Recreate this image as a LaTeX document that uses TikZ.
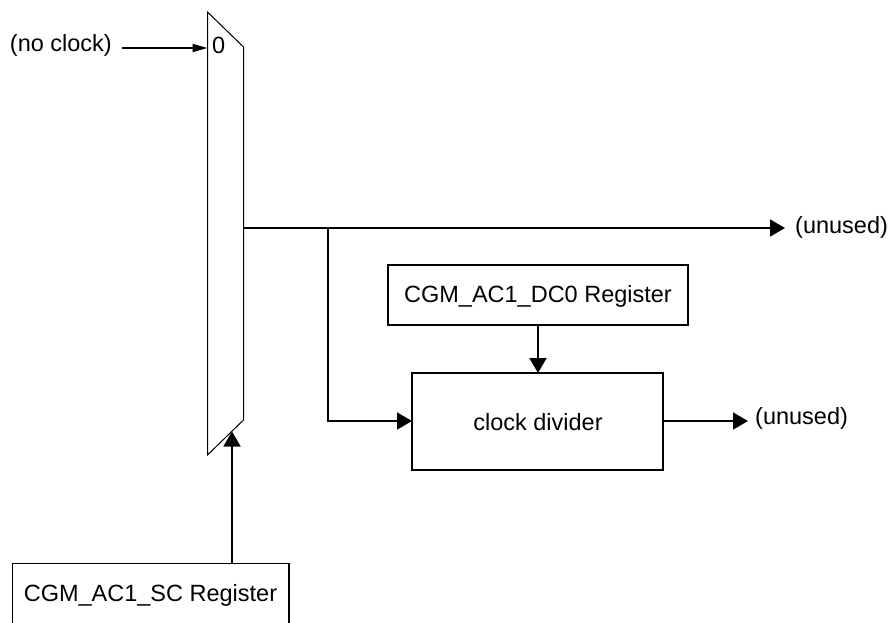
\documentclass[tikz,border=0pt]{standalone}
\usepackage{fontspec}
\setmainfont{Liberation Sans}
\usetikzlibrary{arrows.meta}
\begin{document}
\begin{tikzpicture}[x=1pt,y=-1pt,
  wire/.style={line width=1.8pt,-{Triangle[length=15pt,width=17pt]}},
  lbl/.style={font=\fontsize{23.5}{28}\selectfont,inner sep=0pt}]
\useasboundingbox (0,0) rectangle (895,622);
% mux
\draw[line width=1pt] (207.5,12) -- (243.5,47) -- (243.5,420) -- (207.5,455) -- cycle;
\coordinate (muxin0) at (207.5,48);
\coordinate (muxout) at (243.5,228);
\coordinate (muxsel) at (232,431.5);
\node[lbl,anchor=west] (zero) at (212,45) {0};
% no clock
\node[lbl,anchor=east] (noclk) at (112,45) {(no clock)};
\coordinate (noclkstart) at (122,48);
\draw[line width=1.8pt,-{Triangle[length=15pt,width=8pt]}] (noclkstart) -- (muxin0);
% output to unused
\node[lbl,anchor=west] (unused1) at (795,227) {(unused)};
\coordinate (out1end) at (785,228);
\draw[wire] (muxout) -- (out1end);
% DC0 register
\draw[line width=1.8pt] (388,265) rectangle (688,325);
\node[lbl] (dc0) at (538,296) {CGM\_AC1\_DC0 Register};
\coordinate (dc0b) at (538,325);
% clock divider
\draw[line width=1.8pt] (412,373) rectangle (663,470);
\node[lbl] (div) at (538,422) {clock divider};
\coordinate (divt) at (538,373);
\coordinate (divl) at (412,421);
\coordinate (divr) at (663,421);
\coordinate (branch) at (328,228);
\draw[wire] (branch) |- (divl);
\draw[wire] (dc0b) -- (divt);
\node[lbl,anchor=west] (unused2) at (755,418) {(unused)};
\coordinate (out2end) at (748,421);
\draw[wire] (divr) -- (out2end);
% SC register (cut off at bottom)
\draw[line width=1.8pt] (12.5,630) -- (12.5,563.5) -- (289,563.5) -- (289,630);
\node[lbl] (sc) at (150.5,595) {CGM\_AC1\_SC Register};
\coordinate (sct) at (232,563.5);
\draw[wire] (sct) -- (muxsel);
\end{tikzpicture}
\end{document}
